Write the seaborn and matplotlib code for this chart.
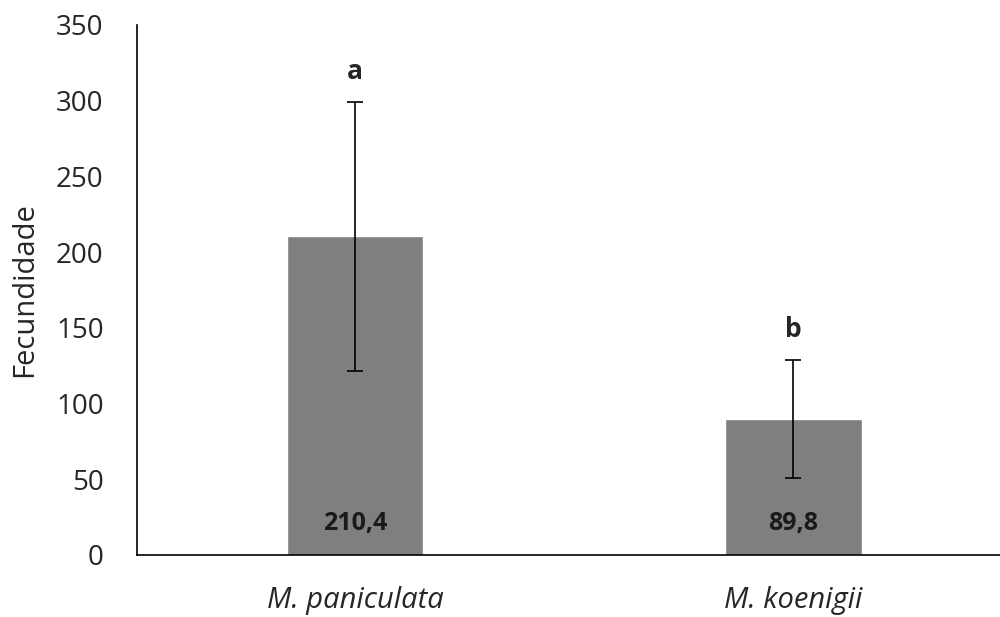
import numpy as np
import pandas as pd
import matplotlib
matplotlib.use("Agg")
import matplotlib.pyplot as plt
import seaborn as sns

# data
species = ["M. paniculata", "M. koenigii"]
fecundity = [210.4, 89.8]
fecundity_sd = [89.0, 39.0]
letters = ["a", "b"]
value_labels = ["210,4", "89,8"]

sns.set_style("white")
plt.rcParams["font.family"] = ["Open Sans", "DejaVu Sans"]

df = pd.DataFrame({"species": species, "fecundidade": fecundity})

fig = plt.figure(figsize=(10, 6.17), dpi=100)
ax = fig.add_axes([0.137, 0.1005, 0.863, 0.859])

sns.barplot(data=df, x="species", y="fecundidade", color="#7f7f7f",
            errorbar=None, width=0.312, saturation=1, ax=ax)
ax.errorbar(np.arange(len(species)), fecundity, yerr=fecundity_sd,
            fmt="none", ecolor="black", elinewidth=1.2, capsize=5.8, capthick=1.2)

for i, (val, sd) in enumerate(zip(fecundity, fecundity_sd)):
    ax.text(i, val + sd + 11, letters[i], ha="center", va="bottom",
            fontsize=19, fontweight="bold", color="#262626")
    ax.text(i, 21, value_labels[i], ha="center", va="center",
            fontsize=18, fontweight="bold", color="#1a1a1a")

ax.set_ylim(0, 350)
ax.set_yticks(range(0, 351, 50))
ax.set_xlim(-0.497, 1.471)
ax.set_xlabel("")
ax.set_ylabel("Fecundidade", fontsize=21, color="#262626", labelpad=12)
ax.tick_params(axis="y", length=0, pad=24, labelsize=20, labelcolor="#262626")
ax.tick_params(axis="x", length=0, pad=22, labelsize=21, labelcolor="#262626")
for lab in ax.get_xticklabels():
    lab.set_fontstyle("italic")

for s in ["top", "right"]:
    ax.spines[s].set_visible(False)
ax.spines["left"].set_color("black")
ax.spines["bottom"].set_color("black")
ax.spines["left"].set_linewidth(1.2)
ax.spines["bottom"].set_linewidth(1.2)

fig.savefig("out.png", dpi=100)
